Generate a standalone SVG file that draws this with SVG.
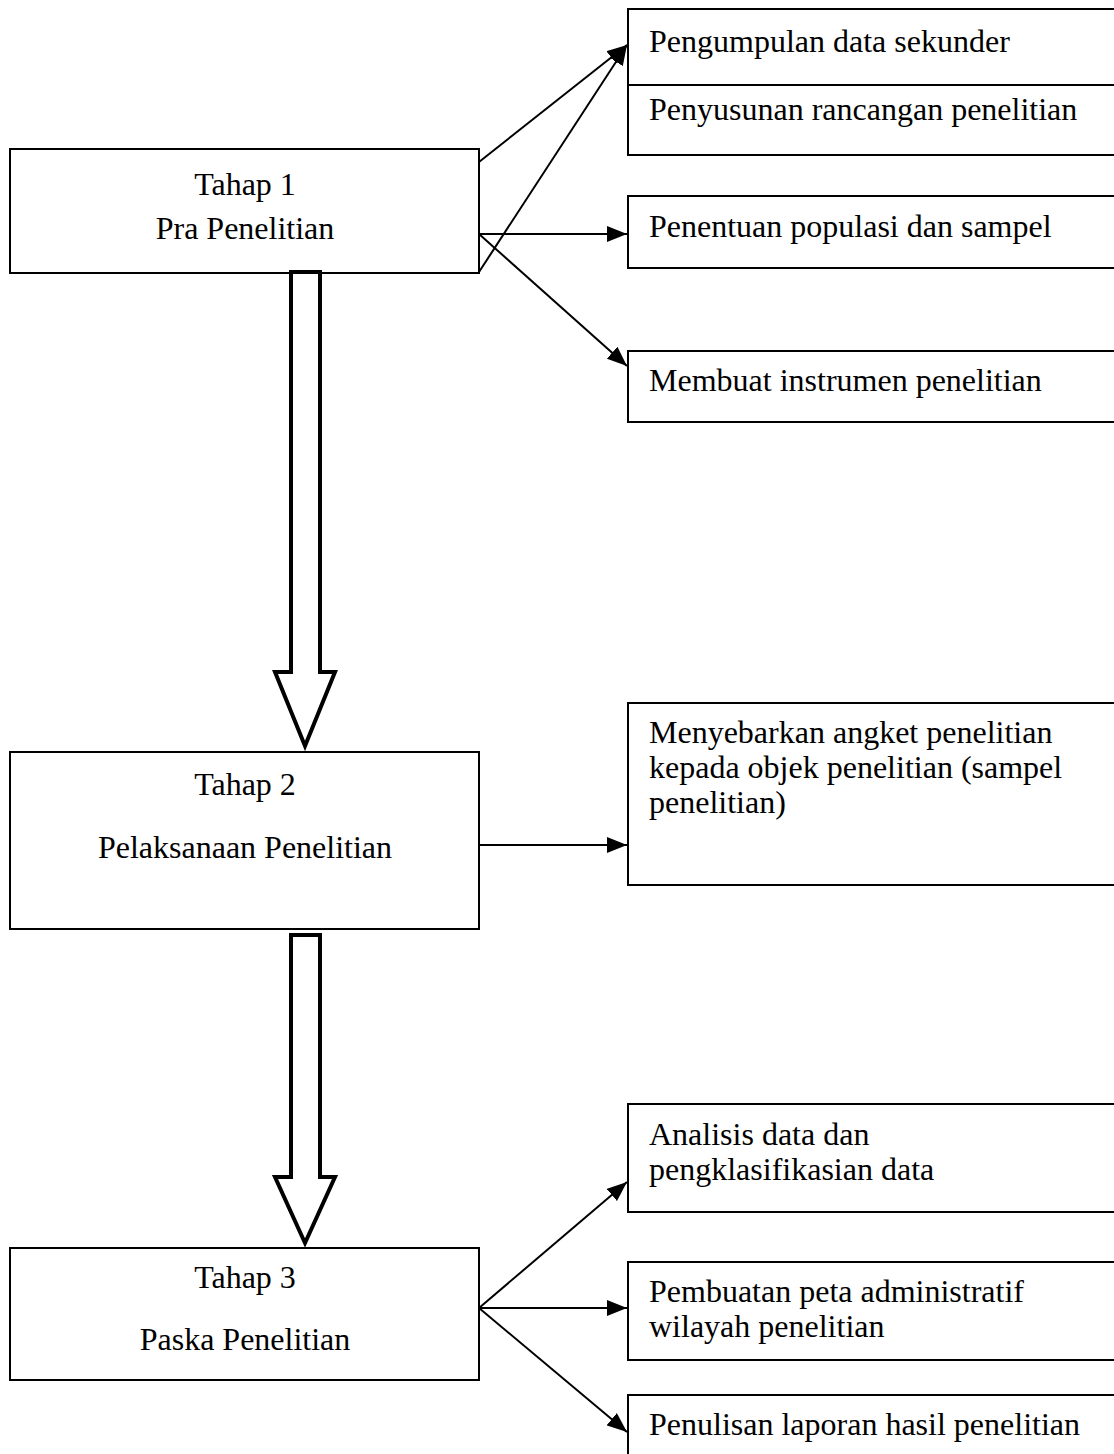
<svg xmlns="http://www.w3.org/2000/svg" width="1114" height="1454" viewBox="0 0 1114 1454">
<defs>
<style>
.box{fill:#fff;stroke:#000;stroke-width:2}
.t{font-family:"Liberation Serif","Times New Roman",serif;font-size:32px;fill:#000}
.c{text-anchor:middle}
.ln{stroke:#000;stroke-width:2;fill:none}
.blk{fill:#fff;stroke:#000;stroke-width:4;stroke-linejoin:miter}
</style>
<marker id="ah" markerUnits="userSpaceOnUse" markerWidth="22" markerHeight="16" refX="20" refY="8" orient="auto">
<path d="M0,0 L20,8 L0,16 Z" fill="#000"/>
</marker>
</defs>
<rect width="1114" height="1454" fill="#fff"/>

<g id="tahap1">
<rect class="box" x="10" y="149" width="469" height="124"/>
<text class="t c" x="245" y="195">Tahap 1</text>
<text class="t c" x="245" y="239">Pra Penelitian</text>
</g>
<g id="tahap2">
<rect class="box" x="10" y="752" width="469" height="177"/>
<text class="t c" x="245" y="795">Tahap 2</text>
<text class="t c" x="245" y="858">Pelaksanaan Penelitian</text>
</g>
<g id="tahap3">
<rect class="box" x="10" y="1248" width="469" height="132"/>
<text class="t c" x="245" y="1288">Tahap 3</text>
<text class="t c" x="245" y="1350">Paska Penelitian</text>
</g>

<g id="box-pengumpulan">
<rect class="box" x="628" y="9" width="500" height="146"/>
<line class="ln" x1="628" y1="85" x2="1128" y2="85"/>
<text class="t" x="649" y="52">Pengumpulan data sekunder</text>
<text class="t" x="649" y="120">Penyusunan rancangan penelitian</text>
</g>
<g id="box-penentuan">
<rect class="box" x="628" y="196" width="500" height="72"/>
<text class="t" x="649" y="237">Penentuan populasi dan sampel</text>
</g>
<g id="box-instrumen">
<rect class="box" x="628" y="351" width="500" height="71"/>
<text class="t" x="649" y="391">Membuat instrumen penelitian</text>
</g>
<g id="box-angket">
<rect class="box" x="628" y="703" width="500" height="182"/>
<text class="t" x="649" y="743">Menyebarkan angket penelitian</text>
<text class="t" x="649" y="778">kepada objek penelitian (sampel</text>
<text class="t" x="649" y="813">penelitian)</text>
</g>
<g id="box-analisis">
<rect class="box" x="628" y="1104" width="500" height="108"/>
<text class="t" x="649" y="1145">Analisis data dan</text>
<text class="t" x="649" y="1180">pengklasifikasian data</text>
</g>
<g id="box-peta">
<rect class="box" x="628" y="1262" width="500" height="98"/>
<text class="t" x="649" y="1302">Pembuatan peta administratif</text>
<text class="t" x="649" y="1337">wilayah penelitian</text>
</g>
<g id="box-laporan">
<rect class="box" x="628" y="1395" width="500" height="80"/>
<text class="t" x="649" y="1435">Penulisan laporan hasil penelitian</text>
</g>

<g id="connectors">
<line class="ln" x1="479" y1="162" x2="627" y2="45" marker-end="url(#ah)"/>
<line class="ln" x1="479" y1="272" x2="627" y2="45" marker-end="url(#ah)"/>
<line class="ln" x1="479" y1="234" x2="627" y2="234" marker-end="url(#ah)"/>
<line class="ln" x1="479" y1="234" x2="627" y2="366" marker-end="url(#ah)"/>
<line class="ln" x1="479" y1="845" x2="627" y2="845" marker-end="url(#ah)"/>
<line class="ln" x1="479" y1="1308" x2="627" y2="1182" marker-end="url(#ah)"/>
<line class="ln" x1="479" y1="1308" x2="627" y2="1308" marker-end="url(#ah)"/>
<line class="ln" x1="479" y1="1308" x2="627" y2="1432" marker-end="url(#ah)"/>
<polygon class="blk" points="291,272 320,272 320,672 335,672 305,746 275,672 291,672"/>
<polygon class="blk" points="291,935 320,935 320,1177 335,1177 305,1243 275,1177 291,1177"/>
</g>
</svg>
